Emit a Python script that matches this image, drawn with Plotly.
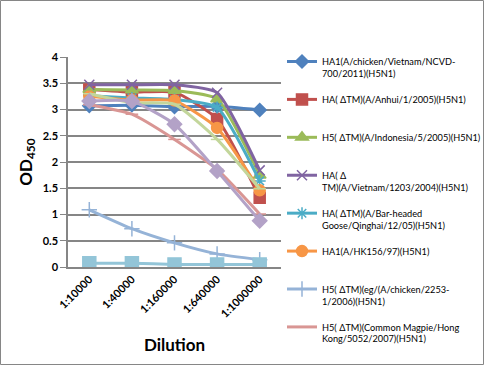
import plotly.graph_objects as go

categories = ["1:10000", "1:40000", "1:160000", "1:640000", "1:1000000"]

names = [
    "HA1(A/chicken/Vietnam/NCVD-<br>700/2011)(H5N1)",
    "HA( ΔTM)(A/Anhui/1/2005)(H5N1)",
    "H5( ΔTM)(A/Indonesia/5/2005)(H5N1)",
    "HA( Δ<br>TM)(A/Vietnam/1203/2004)(H5N1)",
    "HA( ΔTM)(A/Bar-headed<br>Goose/Qinghai/12/05)(H5N1)",
    "HA1(A/HK156/97)(H5N1)",
    "H5( ΔTM)(eg/(A/chicken/2253-<br>1/2006)(H5N1)",
    "H5( ΔTM)(Common Magpie/Hong<br>Kong/5052/2007)(H5N1)",
    "Series 9",
    "Series 10",
    "Series 11",
]

s1 = [3.07, 3.08, 3.05, 3.06, 2.99]
s2 = [3.38, 3.33, 3.33, 2.82, 1.32]
s3 = [3.38, 3.37, 3.36, 3.20, 1.75]
s4 = [3.47, 3.47, 3.47, 3.32, 1.84]
s5 = [3.26, 3.22, 3.19, 3.04, 1.64]
s6 = [3.25, 3.18, 3.17, 2.65, 1.46]
s7 = [1.09, 0.73, 0.46, 0.25, 0.14]
s8 = [3.09, 2.91, 2.43, 1.86, 1.01]
s9 = [3.30, 3.13, 3.10, 2.43, 1.49]
s10 = [3.16, 3.16, 2.72, 1.83, 0.88]
s11 = [0.07, 0.07, 0.05, 0.05, 0.05]

series = [s1, s2, s3, s4, s5, s6, s7, s8, s9, s10, s11]
colors = ["#4F81BD", "#C0504D", "#9BBB59", "#8064A2", "#4BACC6", "#F79646",
          "#95B3D7", "#D99694", "#C3D69B", "#B3A2C7", "#93C5D8"]
symbols = ["diamond", "square", "triangle-up", "x-thin-open", "asterisk-open", "circle",
           "cross-thin-open", "line-ew-open", "line-ew-open", "diamond", "square"]
sizes = [10, 11, 11, 10, 10, 11, 11, 9, 9, 11, 13]

fig = go.Figure()
for i, (nm, ys, c, sym, sz) in enumerate(zip(names, series, colors, symbols, sizes)):
    label = nm if "<br>" in nm else nm + "<br> "
    fig.add_trace(go.Scatter(
        x=categories, y=ys, name=label, mode="lines+markers",
        line=dict(color=c, width=3, shape="spline", smoothing=0.5),
        marker=dict(symbol=sym, size=sz, color=c, line=dict(color=c, width=1.5)),
        showlegend=i < 8, legendgroup=f"g{i}",
    ))

W, H = 485, 366
L, R = 68, 204
PT, PB = 57, 267          # plot area top / bottom in pixels
pw = W - L - R

fig.update_layout(
    width=W, height=H,
    margin=dict(l=L, r=R, t=0, b=0, autoexpand=False),
    paper_bgcolor="white", plot_bgcolor="white",
    font=dict(family="Lato", color="black"),
    xaxis=dict(
        type="category", showgrid=False, showline=True, linecolor="#868686", linewidth=1.5,
        tickangle=-45, tickfont=dict(size=11, family="Lato", weight="bold"),
        ticks="", range=[-0.5, 4.5],
        title=dict(text="Dilution", font=dict(size=17, family="Lato", weight="bold"), standoff=20),
    ),
    yaxis=dict(
        domain=[(H - PB) / H, (H - PT) / H],
        range=[0, 4], dtick=0.5, showgrid=True, gridcolor="#868686", gridwidth=1.5,
        showline=True, linecolor="#868686", linewidth=1.5,
        ticks="outside", ticklen=6, tickcolor="#868686",
        tickfont=dict(size=11, family="Lato", weight="bold"), zeroline=False,
        title=dict(text="OD<sub>450</sub>", font=dict(size=17, family="Lato", weight="bold"), standoff=6),
    ),
    legend=dict(
        x=(282 - L) / pw, xanchor="left", y=(H - 49) / H, yanchor="top",
        font=dict(size=9.2, family="Lato"), valign="top", tracegroupgap=11,
        bgcolor="rgba(0,0,0,0)", itemwidth=30,
    ),
    shapes=[dict(type="rect", xref="paper", yref="paper",
                 x0=-(L - 0.5) / pw, x1=(W - L - 1.5) / pw,
                 y0=1.5 / H, y1=(H - 0.5) / H,
                 line=dict(color="#868686", width=1), fillcolor="rgba(0,0,0,0)", layer="below")],
)

fig.write_html("out.html", config={"displayModeBar": False},
               post_script="document.body.style.margin='0';document.body.style.overflow='hidden';")
